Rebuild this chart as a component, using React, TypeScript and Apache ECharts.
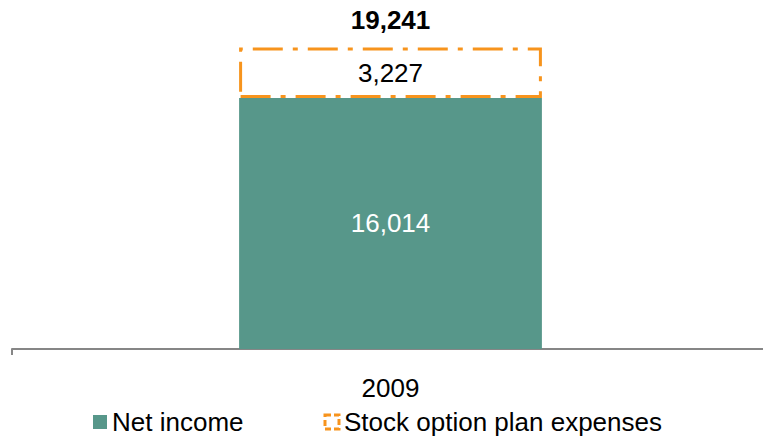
import React, { useEffect, useRef } from "react";
import * as echarts from "echarts";

const categories = ["2009"];
const netIncome = [16014];
const stockOption = [3227];
const totals = [19241];

export default function App() {
  const ref = useRef<HTMLDivElement>(null);
  useEffect(() => {
    if (!ref.current) return;
    const chart = echarts.init(ref.current, null, { renderer: "svg" });
    const font = "Liberation Sans, Arial, sans-serif";
    chart.setOption({
      animation: false,
      textStyle: { fontFamily: font },
      grid: { left: 12, top: 35.5, width: 757, height: 313.5, outerBoundsMode: "none", containLabel: false },
      legend: {
        left: 93,
        top: 408,
        padding: 0,
        itemWidth: 14,
        itemHeight: 14,
        itemGap: 80,
        textStyle: { fontSize: 26, lineHeight: 28, color: "#000", fontFamily: font },
        data: [
          { name: "Net income", icon: "rect", itemStyle: { color: "#57978A" } },
          {
            name: "Stock option plan expenses",
            icon: "rect",
            itemStyle: { color: "#fff", borderColor: "#F7941D", borderWidth: 3, borderType: [6, 3] },
          },
        ],
      },
      xAxis: {
        type: "category",
        data: categories,
        axisLine: { lineStyle: { color: "#868686", width: 2 } },
        axisTick: { show: true, length: 6, lineStyle: { color: "#868686", width: 2 } },
        axisLabel: { fontSize: 26, color: "#000", margin: 26, fontFamily: font },
      },
      yAxis: {
        type: "value",
        min: 0,
        max: 20000,
        show: false,
        splitLine: { show: false },
      },
      series: [
        {
          name: "Net income",
          type: "bar",
          stack: "a",
          barWidth: "40%",
          data: netIncome,
          itemStyle: { color: "#57978A" },
          label: {
            show: true,
            position: "inside",
            color: "#fff",
            fontSize: 26,
            fontFamily: font,
            formatter: (p: any) => p.value.toLocaleString("en-US"),
          },
        },
        {
          name: "Stock option plan expenses",
          type: "bar",
          stack: "a",
          barWidth: "40%",
          data: stockOption,
          itemStyle: {
            color: "#fff",
            borderColor: "#F7941D",
            borderWidth: 3,
            borderType: [30, 10, 5, 10],
          },
          label: {
            show: true,
            position: "inside",
            color: "#000",
            fontSize: 26,
            fontFamily: font,
            formatter: (p: any) => p.value.toLocaleString("en-US"),
          },
        },
        {
          name: "total",
          type: "bar",
          stack: "a",
          barWidth: "40%",
          data: totals.map(() => 0),
          itemStyle: { color: "transparent" },
          label: {
            show: true,
            position: "top",
            distance: 14,
            color: "#000",
            fontSize: 26,
            fontWeight: "bold",
            fontFamily: font,
            formatter: (p: any) => totals[p.dataIndex].toLocaleString("en-US"),
          },
        },
      ],
    });
    return () => chart.dispose();
  }, []);
  return <div ref={ref} style={{ width: 763, height: 437, position: "absolute", left: 0, top: 0 }} />;
}
